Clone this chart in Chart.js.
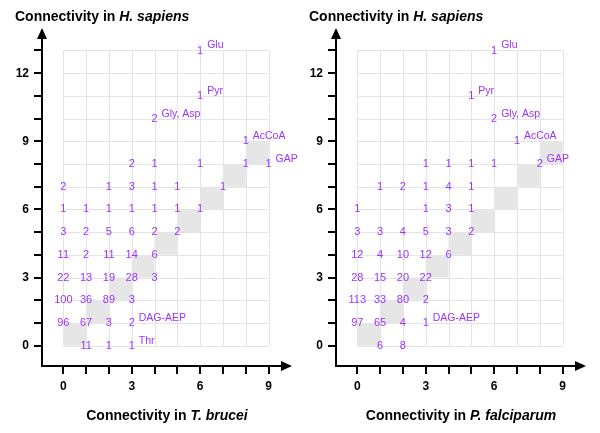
<!DOCTYPE html>
<html>
<head>
<meta charset="utf-8">
<script src="https://cdn.jsdelivr.net/npm/chart.js@4.4.1/dist/chart.umd.min.js"></script>
<style>
    body { margin: 0; background: #fff; font-family: Arial, "Liberation Sans", sans-serif; }
    .wrap { position: relative; width: 600px; height: 433px; overflow: hidden; }
    .panel { position: absolute; top: 0; width: 300px; height: 433px; }
    .panel canvas { position: absolute; left: 0; top: 0; }
    .title { position: absolute; font-weight: bold; font-size: 14px; line-height: 16px; white-space: nowrap; color: #000; }
    .top { left: 15px; top: 8px; }
    .bottom { left: 0; top: 407px; width: 334px; text-align: center; }
</style>
</head>
<body>
<div class="wrap">
    <div class="panel" style="left:0">
        <canvas id="tb" width="300" height="433"></canvas>
        <div class="title top">Connectivity in <i>H. sapiens</i></div>
        <div class="title bottom">Connectivity in <i>T. brucei</i></div>
    </div>
    <div class="panel" style="left:294px">
        <canvas id="pf" width="300" height="433"></canvas>
        <div class="title top">Connectivity in <i>H. sapiens</i></div>
        <div class="title bottom">Connectivity in <i>P. falciparum</i></div>
    </div>
</div>
<script>
// Axis ticks
const xTickValues = [0, 1, 2, 3, 4, 5, 6, 7, 8, 9]
const yTickValues = [0, 1, 2, 3, 4, 5, 6, 7, 8, 9, 10, 11, 12, 13]
const tickLabels = [0, 3, 6, 9, 12]

// shaded cells on the diagonal (i,i) -> (i+1,i+1)
const diagonal = [0, 1, 2, 3, 4, 5, 6, 7, 8]

// T. brucei (x) vs H. sapiens (y), counts per cell
const tbX = [6, 6, 4, 8, 3, 4, 6, 8, 9, 0, 2, 3, 4, 5, 7, 0, 1, 2, 3, 4, 5, 6, 0, 1, 2, 3, 4, 5, 0, 1, 2, 3, 4, 0, 1, 2, 3, 4, 0, 1, 2, 3, 0, 1, 2, 3, 1, 2, 3]
const tbY = [13, 11, 10, 9, 8, 8, 8, 8, 8, 7, 7, 7, 7, 7, 7, 6, 6, 6, 6, 6, 6, 6, 5, 5, 5, 5, 5, 5, 4, 4, 4, 4, 4, 3, 3, 3, 3, 3, 2, 2, 2, 2, 1, 1, 1, 1, 0, 0, 0]
const tbN = [1, 1, 2, 1, 2, 1, 1, 1, 1, 2, 1, 3, 1, 1, 1, 1, 1, 1, 1, 1, 1, 1, 3, 2, 5, 6, 2, 2, 11, 2, 11, 14, 6, 22, 13, 19, 28, 3, 100, 36, 89, 3, 96, 67, 3, 2, 11, 1, 1]
const tbNoteX = [6, 6, 4, 8, 9, 3, 3]
const tbNoteY = [13, 11, 10, 9, 8, 1, 0]
const tbNotes = ['Glu', 'Pyr', 'Gly, Asp', 'AcCoA', 'GAP', 'DAG-AEP', 'Thr']

// P. falciparum (x) vs H. sapiens (y)
const pfX = [6, 5, 6, 7, 3, 4, 5, 6, 8, 1, 2, 3, 4, 5, 0, 3, 4, 5, 0, 1, 2, 3, 4, 5, 0, 1, 2, 3, 4, 0, 1, 2, 3, 0, 1, 2, 3, 0, 1, 2, 3, 1, 2]
const pfY = [13, 11, 10, 9, 8, 8, 8, 8, 8, 7, 7, 7, 7, 7, 6, 6, 6, 6, 5, 5, 5, 5, 5, 5, 4, 4, 4, 4, 4, 3, 3, 3, 3, 2, 2, 2, 2, 1, 1, 1, 1, 0, 0]
const pfN = [1, 1, 2, 1, 1, 1, 1, 1, 2, 1, 2, 1, 4, 1, 1, 1, 3, 1, 3, 3, 4, 5, 3, 2, 12, 4, 10, 12, 6, 28, 15, 20, 22, 113, 33, 80, 2, 97, 65, 4, 1, 6, 8]
const pfNoteX = [6, 5, 6, 7, 8, 3]
const pfNoteY = [13, 11, 10, 9, 8, 1]
const pfNotes = ['Glu', 'Pyr', 'Gly, Asp', 'AcCoA', 'GAP', 'DAG-AEP']

const purple = '#9933ff'
const fontFamily = 'Arial, "Liberation Sans", sans-serif'


// light grid + grey diagonal cells
const gridPlugin = {
    id: 'cellGrid',
    beforeDatasetsDraw(chart) {
        const { ctx, scales: { x, y } } = chart
        const top = y.getPixelForValue(yTickValues[yTickValues.length - 1])
        const bottom = y.getPixelForValue(0)
        const left = x.getPixelForValue(0)
        const right = x.getPixelForValue(xTickValues[xTickValues.length - 1])

        ctx.save()
        ctx.strokeStyle = '#e4e4e4'
        ctx.lineWidth = 1
        for (const c of xTickValues) {
            const px = Math.round(x.getPixelForValue(c)) + 0.5
            ctx.beginPath(); ctx.moveTo(px, top); ctx.lineTo(px, bottom); ctx.stroke()
        }
        for (const r of yTickValues) {
            const py = Math.round(y.getPixelForValue(r)) + 0.5
            ctx.beginPath(); ctx.moveTo(left, py); ctx.lineTo(right, py); ctx.stroke()
        }

        ctx.fillStyle = '#e6e6e6'
        for (const d of diagonal) {
            const x0 = x.getPixelForValue(d), x1 = x.getPixelForValue(d + 1)
            const y0 = y.getPixelForValue(d), y1 = y.getPixelForValue(d + 1)
            ctx.fillRect(x0, y1, x1 - x0, y0 - y1)
        }
        ctx.restore()
    }
}

// numbers and names at the points
const textPlugin = {
    id: 'cellText',
    afterDatasetsDraw(chart) {
        const ctx = chart.ctx
        ctx.save()
        chart.data.datasets.forEach((ds, i) => {
            const meta = chart.getDatasetMeta(i)
            ctx.font = ds.textFont
            ctx.fillStyle = purple
            ctx.textAlign = ds.textAlign
            ctx.textBaseline = 'middle'
            meta.data.forEach((pt, j) => ctx.fillText(ds.texts[j], pt.x + ds.dx, pt.y + ds.dy))
        })
        ctx.restore()
    }
}

// arrow heads on both axes
const arrowPlugin = {
    id: 'arrows',
    afterDraw(chart) {
        const { ctx, chartArea: a } = chart
        ctx.save()
        ctx.fillStyle = '#000'
        ctx.beginPath()
        ctx.moveTo(a.right - 1, a.bottom - 5)
        ctx.lineTo(a.right + 10, a.bottom)
        ctx.lineTo(a.right - 1, a.bottom + 5)
        ctx.fill()
        ctx.beginPath()
        ctx.moveTo(a.left - 5, a.top + 1)
        ctx.lineTo(a.left, a.top - 10)
        ctx.lineTo(a.left + 5, a.top + 1)
        ctx.fill()
        ctx.restore()
    }
}

const axis = (values, min, max, fit) => ({
    type: 'linear',
    min, max,
    afterBuildTicks: s => { s.ticks = values.map(v => ({ value: v })) },
    afterFit: fit,
    ticks: {
        autoSkip: false,
        maxRotation: 0,
        padding: 5,
        color: '#000',
        font: { family: fontFamily, size: 12, weight: 'bold' },
        callback: v => tickLabels.includes(v) ? String(v) : ''
    },
    grid: { drawOnChartArea: false, tickLength: 8, color: '#000', lineWidth: 2 },
    border: { color: '#000', width: 2 }
})

const createChart = (id, xs, ys, ns, noteX, noteY, notes) => {
    const ctx = document.getElementById(id)

    new Chart(ctx, {
        type: 'scatter',
        data: {
            datasets: [{
                data: xs.map((x, i) => ({ x, y: ys[i] })),
                texts: ns.map(String),
                textFont: `11px ${fontFamily}`,
                textAlign: 'center',
                dx: 0, dy: 0,
                pointRadius: 0
            }, {
                data: noteX.map((x, i) => ({ x, y: noteY[i] })),
                texts: notes,
                textFont: `10.5px ${fontFamily}`,
                textAlign: 'left',
                dx: 7, dy: -5,
                pointRadius: 0
            }]
        },
        options: {
            responsive: false,
            animation: false,
            layout: { padding: { top: 38, right: 18, left: 0, bottom: 0 } },
            plugins: { legend: { display: false }, tooltip: { enabled: false } },
            scales: {
                x: axis(xTickValues, -0.935, 9.59, s => { s.height = 67 }),
                y: axis(yTickValues, -0.894, 13.55, s => { s.width = 42 })
            }
        },
        plugins: [gridPlugin, textPlugin, arrowPlugin]
    })
}


createChart('tb', tbX, tbY, tbN, tbNoteX, tbNoteY, tbNotes)
createChart('pf', pfX, pfY, pfN, pfNoteX, pfNoteY, pfNotes)
</script>
</body>
</html>
